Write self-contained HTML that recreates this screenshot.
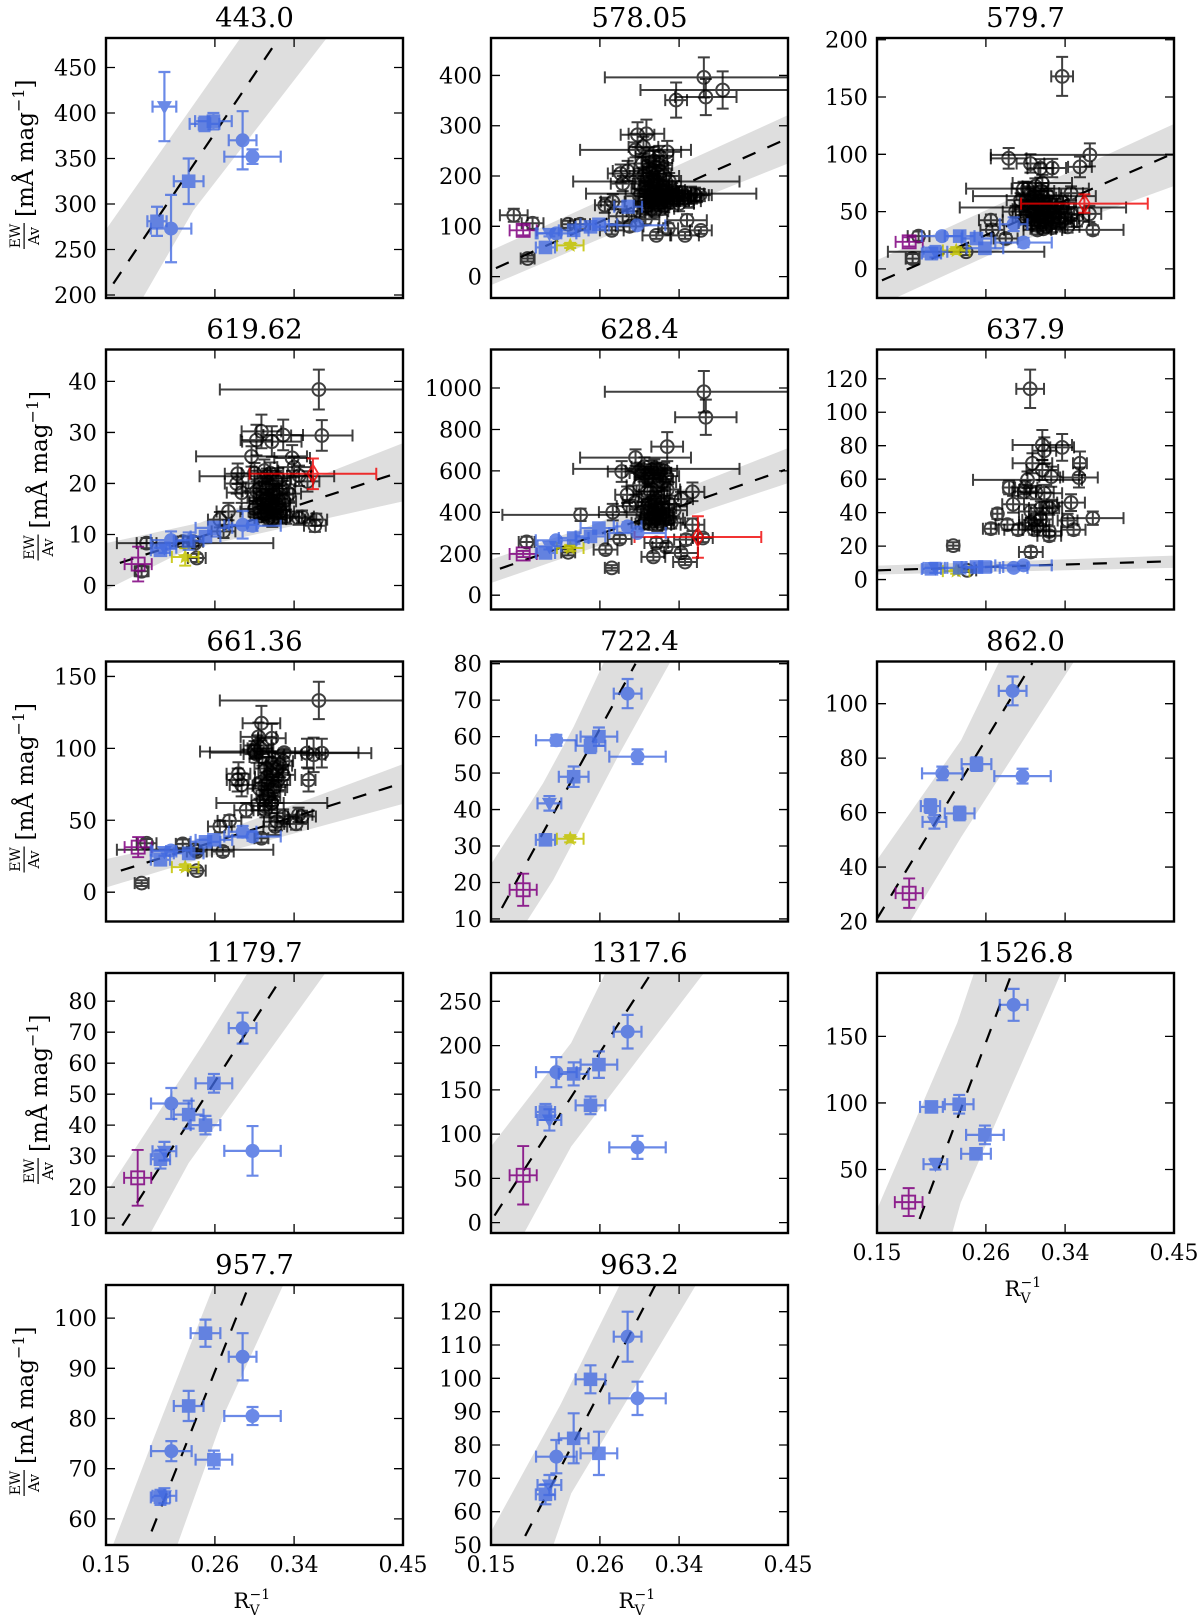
<!DOCTYPE html>
<html>
<head>
<meta charset="utf-8">
<title>EW/Av versus inverse Rv panels</title>
<style>
html,body{margin:0;padding:0;background:#fff;}
svg{display:block;}
text{font-family:"DejaVu Serif","Liberation Serif",serif;fill:#000;}
</style>
</head>
<body>
<svg id="figure" xmlns="http://www.w3.org/2000/svg" width="1200" height="1620" viewBox="0 0 1200 1620"></svg>
<script>
const panelTitles = ["443.0","578.05","579.7","619.62","628.4","637.9","661.36","722.4","862.0","1179.7","1317.6","1526.8","957.7","963.2"];
const xLimits = [0.15,0.45];
const xTickValues = [0.15,0.26,0.34,0.45];
const xTickLabels = ["0.15","0.26","0.34","0.45"];
const panelsWithXLabels = ["1526.8","957.7","963.2"];
const yLimits = [[196.7,482.4],[-42.5,474.4],[-25.4,201.5],[-4.7,46.25],[-69,1186],[-17.9,137.5],[-20.4,160.4],[9.3,80.6],[20,115.5],[5.2,89.1],[-11.7,282],[2.3,197.6],[54.8,106.6],[50,128]];
const yTickValues = [
[200,250,300,350,400,450],[0,100,200,300,400],[0,50,100,150,200],[0,10,20,30,40],[0,200,400,600,800,1000],[0,20,40,60,80,100,120],[0,50,100,150],
[10,20,30,40,50,60,70,80],[20,40,60,80,100],[10,20,30,40,50,60,70,80],[0,50,100,150,200,250],[50,100,150],[60,70,80,90,100],[50,60,70,80,90,100,110,120]];
const fitLines = [
[0.1574,212.5,0.3226,479],[0.155,17,0.45,275],[0.155,-10,0.45,101],[0.164,4.43,0.446,22.15],[0.159,128,0.447,605],[0.15,5.5,0.45,11],[0.165,15,0.447,75.3],
[0.161,13,0.296,80],[0.15,21,0.307,115],[0.1665,7.6,0.325,86.4],[0.1536,8,0.312,282],[0.193,12.8,0.286,197],[0.196,57.5,0.294,106.3],[0.1845,52.7,0.316,128]];
const bandUppers = [
[[0.15,272],[0.2855,482]],[[0.15,52],[0.45,321]],[[0.15,7.6],[0.45,126.5]],[[0.15,8.3],[0.245,12.3],[0.45,27.9]],[[0.15,172],[0.25,335],[0.45,710]],[[0.15,8.3],[0.45,14.3]],[[0.15,23],[0.25,38],[0.45,89]],
[[0.15,25],[0.2026,47.2],[0.2335,62.7],[0.2644,80.6]],[[0.15,42.6],[0.235,86.6],[0.2735,115.5]],[[0.15,18],[0.249,66.6],[0.293,89.1]],[[0.15,86],[0.231,203],[0.2655,282]],[[0.15,20],[0.231,160],[0.248,197.6]],[[0.157,54.8],[0.1974,75.7],[0.259,106.6]],[[0.15,54],[0.22,92],[0.28,128]]];
const bandLowers = [
[[0.15,126],[0.1878,198],[0.2383,293],[0.373,482.4]],[[0.15,-17],[0.26,75],[0.45,225]],[[0.15,-35],[0.1686,-25.4],[0.2885,22],[0.45,72.3]],[[0.15,-1],[0.159,0],[0.2316,7],[0.45,16.5]],[[0.15,59],[0.26,240],[0.45,541]],[[0.15,3],[0.45,7]],[[0.15,3.2],[0.25,24],[0.45,61.4]],
[[0.15,-6],[0.186,9.3],[0.2129,20.7],[0.2799,55.4],[0.3314,80.6]],[[0.15,-15],[0.1835,20],[0.235,51],[0.349,115.5]],[[0.15,-25],[0.195,5.2],[0.2335,27.8],[0.3716,89.1]],[[0.15,-75],[0.1835,-11.7],[0.231,86],[0.365,282]],[[0.15,-200],[0.226,2.3],[0.2345,25],[0.336,197.6]],[[0.222,54.8],[0.2696,81],[0.329,106.6]],[[0.15,15],[0.213,50],[0.231,65.5],[0.357,128]]];
const bluePoints = [
[[0.2015,0.0097,281,16,"s"],[0.209,0.012,407,38,"t"],[0.2157,0.0205,273,37,"c"],[0.2335,0.015,325,25,"s"],[0.2495,0.015,388,8,"s"],[0.2585,0.0185,391,9,"s"],[0.288,0.014,370,32,"c"],[0.298,0.0285,352,8,"c"]],
[[0.205,0.0097,58,8,"s"],[0.209,0.012,86,6,"t"],[0.2157,0.0205,86,6,"c"],[0.2335,0.015,92,8,"s"],[0.2505,0.015,99,8,"s"],[0.259,0.0185,104,10,"s"],[0.2885,0.014,139,12,"s"],[0.2976,0.0285,102,6,"c"]],
[[0.205,0.0097,13.4,5,"s"],[0.209,0.012,15,5,"t"],[0.2157,0.0205,28.6,3,"c"],[0.2335,0.015,28.6,4,"s"],[0.2505,0.015,26.5,3,"s"],[0.259,0.0185,18,5,"s"],[0.288,0.014,39,6,"c"],[0.298,0.0285,23,4,"c"]],
[[0.205,0.0097,6.9,1,"s"],[0.209,0.012,7.4,1,"t"],[0.2157,0.0205,8.9,1.7,"c"],[0.2335,0.015,8.7,1.7,"s"],[0.2505,0.015,9.6,1,"s"],[0.259,0.0185,11.3,1.2,"s"],[0.288,0.014,11.9,2.7,"c"],[0.298,0.0285,11.7,1,"c"]],
[[0.205,0.0097,204,25,"s"],[0.209,0.012,236,15,"t"],[0.2157,0.0205,265,15,"c"],[0.2335,0.015,276,20,"s"],[0.2505,0.015,284,20,"s"],[0.259,0.0185,324,25,"s"],[0.288,0.014,332,20,"c"],[0.298,0.0285,300,15,"c"]],
[[0.205,0.0097,6.4,3,"s"],[0.209,0.012,7,3,"t"],[0.2335,0.015,7,2,"s"],[0.2505,0.015,7.5,3,"s"],[0.259,0.0185,7.5,3,"s"],[0.288,0.014,7,2,"c"],[0.298,0.0285,8.5,2,"c"]],
[[0.205,0.0097,22.5,3,"s"],[0.209,0.012,28.3,3,"t"],[0.2157,0.0205,29,3,"c"],[0.2335,0.015,27,4,"s"],[0.2505,0.015,35,2,"s"],[0.259,0.0185,36.4,3,"s"],[0.288,0.014,42,4,"c"],[0.298,0.0285,38.7,3,"c"]],
[[0.205,0.0097,31.7,1.5,"s"],[0.209,0.012,41.7,2,"t"],[0.2335,0.015,49,2.8,"s"],[0.216,0.0205,59,1.5,"c"],[0.2505,0.015,57.5,2,"s"],[0.259,0.0185,60,2.5,"s"],[0.288,0.014,71.8,4,"c"],[0.298,0.0285,54.5,2,"c"]],
[[0.204,0.0097,62.4,2.5,"s"],[0.208,0.012,56.6,2.5,"t"],[0.216,0.0205,74.4,2.5,"c"],[0.2335,0.015,59.7,2.5,"s"],[0.2505,0.015,77.8,2.5,"s"],[0.287,0.014,104.7,5.3,"c"],[0.297,0.0285,73.4,2.7,"c"]],
[[0.205,0.0097,29,3,"s"],[0.209,0.012,31.6,3,"t"],[0.216,0.0205,47,5,"c"],[0.2335,0.015,43.4,4.5,"s"],[0.2505,0.015,40,3,"s"],[0.259,0.0185,53.5,3,"s"],[0.288,0.014,71.3,5,"c"],[0.298,0.0285,31.7,8,"c"]],
[[0.205,0.0097,125,9,"s"],[0.209,0.012,116,12,"t"],[0.216,0.0205,170,17,"c"],[0.2335,0.015,168,13,"s"],[0.2505,0.015,132.5,10,"s"],[0.259,0.0185,178.5,15,"s"],[0.288,0.014,215.7,19,"c"],[0.298,0.0285,85,13,"c"]],
[[0.205,0.0115,97,4,"s"],[0.209,0.012,54,4,"t"],[0.233,0.0145,99,7,"s"],[0.25,0.015,61.8,3.5,"s"],[0.259,0.019,76,7,"s"],[0.288,0.014,173.7,12,"c"]],
[[0.205,0.0097,64.3,1.5,"s"],[0.209,0.012,64.6,1.5,"t"],[0.216,0.0205,73.5,2,"c"],[0.2335,0.015,82.5,3,"s"],[0.2505,0.015,97,2.7,"s"],[0.259,0.0185,71.8,1.8,"s"],[0.288,0.014,92.3,4.7,"c"],[0.298,0.0285,80.5,1.8,"c"]],
[[0.205,0.0097,65.2,3,"s"],[0.209,0.012,68,3,"t"],[0.216,0.0205,76.5,5,"c"],[0.2335,0.015,82,7.5,"s"],[0.2505,0.015,99.7,4.2,"s"],[0.259,0.0185,77.5,6.5,"s"],[0.288,0.014,112.5,7.5,"c"],[0.298,0.0285,94,5,"c"]]];
const purplePoints = [[],[[0.1825,0.0137,92,10]],[[0.1825,0.0137,23.6,4]],[[0.1825,0.0137,4.2,3.4]],[[0.1825,0.0137,199,15]],[],[[0.1825,0.0137,31.3,7]],[[0.1825,0.0137,18,4.4]],[[0.1825,0.0137,30.4,5.4]],[[0.182,0.0137,23,9]],[[0.1825,0.0137,53.5,33]],[[0.182,0.014,25.5,10.5]],[],[]];
const yellowPoints = [[],[[0.23,0.0135,62,5]],[[0.23,0.0135,16,3]],[[0.23,0.0135,5.6,1.7]],[[0.23,0.0135,228,15]],[[0.23,0.0135,5,1.5]],[[0.23,0.0135,17.4,2]],[[0.23,0.0135,32,1]],[],[],[],[],[],[]];
const redPoints = [[],[],[[0.3595,0.064,57,8]],[[0.359,0.064,21.9,3]],[[0.359,0.064,281,100]],[],[],[],[],[],[],[],[],[]];
const blackPanel578 = [[0.365,0.1,396,40],[0.367,0.031,357,36],[0.337,0.011,351,35],[0.384,0.083,371,37],[0.173,0.014,122,13],[0.192,0.011,106,11],[0.187,0.007,36,6],[0.228,0.007,104,7],[0.24,0.01,104,10],[0.298,0.017,282,25],[0.307,0.018,284,28],[0.296,0.056,252,15],[0.328,0.014,248,22],[0.304,0.015,258,20],[0.281,0.013,205,18],[0.288,0.015,210,20],[0.283,0.012,185,15],[0.317,0.084,189,8],[0.332,0.086,165,8],[0.265,0.01,142,15],[0.273,0.012,149,15],[0.272,0.012,92,8],[0.306,0.014,114,10],[0.317,0.014,82,7],[0.346,0.014,82,7],[0.362,0.011,92,7],[0.348,0.02,112,12],[0.329,0.01,96,10],[0.356,0.014,162,15],[0.34,0.012,165,15],[0.361,0.012,162,12],[0.3,0.014,160,14],[0.305,0.013,175,15],[0.31,0.014,150,12],[0.312,0.012,165,15],[0.315,0.015,180,15],[0.318,0.013,145,13],[0.32,0.014,155,12],[0.322,0.015,170,14],[0.325,0.014,140,12],[0.328,0.013,150,14],[0.33,0.012,190,16],[0.31,0.015,215,18],[0.315,0.013,230,20],[0.318,0.014,205,18],[0.308,0.012,195,16],[0.325,0.015,200,15],[0.32,0.014,240,20],[0.312,0.014,135,12],[0.3,0.013,130,12],[0.335,0.014,155,12],[0.34,0.015,145,15],[0.345,0.013,155,14],[0.35,0.012,150,13],[0.283,0.014,120,14],[0.29,0.014,100,10],[0.306,0.013,185,15],[0.309,0.014,172,14],[0.311,0.013,158,13],[0.313,0.014,148,12],[0.314,0.013,192,16],[0.316,0.014,168,14],[0.317,0.013,155,13],[0.319,0.014,182,15],[0.321,0.013,162,13],[0.323,0.014,150,12],[0.324,0.013,178,15],[0.326,0.014,158,13],[0.327,0.013,168,14],[0.313,0.014,205,17],[0.316,0.013,218,18],[0.31,0.014,238,19],[0.32,0.013,222,18],[0.303,0.014,225,19],[0.33,0.014,160,13],[0.333,0.013,172,14],[0.338,0.014,158,13],[0.307,0.013,140,12],[0.315,0.014,130,11],[0.322,0.013,135,12],[0.304,0.014,200,17],[0.343,0.014,165,13],[0.352,0.013,165,14],[0.349,0.014,158,13]];
const blackPanel5797 = [[0.337,0.011,168,17],[0.365,0.1,99.5,10],[0.355,0.012,89,9],[0.283,0.018,96.5,9],[0.305,0.014,92,8],[0.327,0.014,88,8],[0.315,0.013,87.8,8],[0.317,0.03,75,7],[0.192,0.011,28.6,4],[0.186,0.007,9,4],[0.24,0.079,15,3],[0.368,0.031,34,4],[0.3425,0.012,36.7,5],[0.28,0.012,26.5,4],[0.2665,0.012,34,5],[0.265,0.012,42.5,5],[0.302,0.062,70,6],[0.309,0.062,63.5,5],[0.3176,0.084,53.6,5],[0.3645,0.012,48,7],[0.346,0.012,48,6],[0.346,0.012,66,6],[0.29,0.013,50,5],[0.295,0.014,60,6],[0.3,0.013,45,5],[0.303,0.014,55,5],[0.306,0.013,40,5],[0.308,0.014,50,6],[0.31,0.013,62,6],[0.312,0.014,38,5],[0.314,0.013,46,5],[0.316,0.014,54,6],[0.318,0.013,35,4],[0.32,0.014,42,5],[0.322,0.013,50,6],[0.324,0.014,58,6],[0.326,0.013,40,5],[0.328,0.014,48,5],[0.33,0.013,55,6],[0.333,0.014,45,5],[0.336,0.013,52,6],[0.34,0.014,44,5],[0.352,0.012,42,5],[0.31,0.013,72,7],[0.298,0.012,70,6],[0.322,0.014,64,6],[0.3,0.013,52,5],[0.304,0.014,47,5],[0.307,0.013,58,5],[0.309,0.014,43,5],[0.311,0.013,52,5],[0.313,0.014,59,6],[0.315,0.013,41,5],[0.317,0.014,49,5],[0.319,0.013,57,5],[0.321,0.014,37,4],[0.323,0.013,45,5],[0.325,0.014,52,5],[0.327,0.013,36,4],[0.329,0.014,44,5],[0.331,0.013,50,5],[0.312,0.014,34,4],[0.318,0.013,62,6],[0.305,0.014,65,6],[0.316,0.013,68,7],[0.335,0.014,40,5],[0.338,0.013,58,6]];
const blackPanel61962 = [[0.365,0.1,38.4,3.9],[0.368,0.031,29.4,3],[0.307,0.02,30.2,3.3],[0.329,0.02,29.5,3],[0.3175,0.03,28.2,3],[0.302,0.016,28.5,3],[0.297,0.056,25.3,2],[0.338,0.018,25,2.5],[0.34,0.017,23.2,2],[0.283,0.013,21.9,2],[0.3125,0.068,21.4,1.5],[0.3535,0.012,20.4,2],[0.287,0.015,18.2,2],[0.282,0.012,20,2],[0.2737,0.012,14.5,1.7],[0.265,0.012,12.9,1.5],[0.2687,0.012,10.6,1.3],[0.361,0.011,11.7,1.2],[0.3624,0.011,12.9,1.2],[0.3445,0.014,13.2,1.3],[0.348,0.012,13.5,1.2],[0.24,0.079,8.3,0.5],[0.2275,0.007,8.6,1],[0.238,0.01,8.6,1],[0.191,0.01,8.3,1],[0.186,0.007,2.8,1],[0.2417,0.009,5.4,0.8],[0.3,0.013,22,2],[0.305,0.014,19,2],[0.308,0.013,16,1.7],[0.31,0.014,14,1.6],[0.312,0.013,17,1.8],[0.314,0.014,20,2],[0.316,0.013,15,1.6],[0.318,0.014,13,1.5],[0.32,0.013,18,1.9],[0.322,0.014,16,1.7],[0.324,0.013,21,2],[0.326,0.014,14.5,1.6],[0.328,0.013,19,2],[0.33,0.012,16.5,1.7],[0.332,0.013,13.5,1.4],[0.31,0.014,22.5,2.2],[0.3,0.013,15,1.6],[0.335,0.012,18,1.8],[0.345,0.012,21.5,2],[0.307,0.013,14.5,1.6],[0.309,0.014,16.5,1.7],[0.311,0.013,15.3,1.6],[0.313,0.014,14.2,1.5],[0.315,0.013,17,1.8],[0.317,0.014,16,1.7],[0.319,0.013,14.8,1.6],[0.321,0.014,15.6,1.6],[0.323,0.013,13.8,1.5],[0.325,0.014,17.8,1.8],[0.312,0.013,19,2],[0.318,0.014,19.5,2],[0.316,0.013,22,2.1],[0.322,0.014,20.5,2],[0.306,0.013,17.2,1.8],[0.302,0.014,18.5,1.9],[0.32,0.013,13.4,1.4],[0.314,0.014,13.2,1.4]];
const blackPanel6284 = [[0.365,0.1,982,100],[0.367,0.031,859,85],[0.328,0.016,717,70],[0.296,0.056,664,40],[0.282,0.014,597,50],[0.317,0.084,610,30],[0.3535,0.012,499,45],[0.342,0.012,464,35],[0.2875,0.012,485,40],[0.273,0.014,401,40],[0.2405,0.079,388,30],[0.186,0.008,257,25],[0.228,0.007,207,15],[0.2657,0.012,220,20],[0.272,0.007,132,13],[0.28,0.012,271,20],[0.317,0.012,252,25],[0.347,0.012,268,25],[0.3535,0.012,340,30],[0.327,0.014,233,20],[0.314,0.012,185,18],[0.342,0.017,204,18],[0.346,0.012,160,15],[0.364,0.01,276,20],[0.3,0.014,600,40],[0.305,0.013,620,45],[0.31,0.014,580,40],[0.315,0.013,610,45],[0.32,0.014,560,40],[0.325,0.013,600,40],[0.3,0.013,530,40],[0.308,0.014,500,40],[0.312,0.013,450,35],[0.316,0.014,420,35],[0.318,0.013,390,30],[0.32,0.014,360,30],[0.322,0.013,440,35],[0.315,0.014,370,30],[0.31,0.013,400,35],[0.325,0.014,480,40],[0.328,0.013,510,40],[0.33,0.014,370,30],[0.305,0.013,350,30],[0.318,0.014,340,30],[0.296,0.013,450,35],[0.29,0.013,430,30],[0.335,0.013,410,30],[0.312,0.014,430,35],[0.314,0.013,395,32],[0.316,0.014,375,30],[0.317,0.013,440,35],[0.319,0.014,410,33],[0.321,0.013,385,30],[0.313,0.014,360,30],[0.323,0.014,420,33],[0.315,0.013,465,36],[0.311,0.014,500,38],[0.318,0.013,525,40],[0.323,0.014,545,42],[0.308,0.013,565,42],[0.304,0.014,590,42],[0.319,0.013,590,42],[0.312,0.014,605,44],[0.327,0.013,575,40],[0.332,0.014,350,28],[0.322,0.013,345,28],[0.31,0.014,345,28]];
const blackPanel6379 = [[0.3047,0.014,114,11.5],[0.337,0.012,79,8],[0.317,0.03,80.4,9],[0.319,0.012,77,8],[0.355,0.007,69.5,7],[0.307,0.02,69.5,6],[0.317,0.016,65.5,6],[0.326,0.012,61.5,6],[0.354,0.019,61,6],[0.302,0.055,59.6,5],[0.2835,0.006,55,4],[0.2987,0.012,52.6,4],[0.3105,0.018,52,4],[0.319,0.018,51.6,5],[0.2875,0.011,45,5],[0.346,0.014,46,5],[0.2716,0.005,39.3,3],[0.324,0.01,42.7,4],[0.327,0.01,43.7,4],[0.3155,0.012,42.7,4],[0.3054,0.012,40.7,4],[0.368,0.031,36.7,4],[0.3425,0.01,35.3,4],[0.265,0.008,30.4,3],[0.2817,0.012,32.8,3],[0.2926,0.014,29.8,3],[0.3088,0.012,35.7,3],[0.3088,0.012,29.8,3],[0.3054,0.012,34,3],[0.3486,0.012,29.8,3],[0.324,0.012,28.8,3],[0.324,0.012,26.2,3],[0.3054,0.012,16.5,3],[0.227,0.006,20.3,2],[0.2412,0.009,5.5,1],[0.3155,0.012,36,3],[0.312,0.012,32,3],[0.3,0.012,55,4]];
const blackPanel66136 = [[0.365,0.1,133.3,13],[0.307,0.019,117.5,12],[0.3175,0.014,107,10],[0.304,0.018,108,10],[0.3,0.055,97.8,5],[0.33,0.075,97,3],[0.353,0.012,96.7,10],[0.368,0.05,96.7,10],[0.3597,0.012,95.5,12],[0.3546,0.007,78,8],[0.2838,0.012,82.3,8],[0.283,0.011,78,8],[0.287,0.012,74.6,8],[0.329,0.01,91,8],[0.3175,0.013,90,8],[0.3125,0.012,80,9],[0.324,0.012,78,8],[0.329,0.012,81.6,7],[0.309,0.012,64,7],[0.3175,0.012,62,7],[0.311,0.012,57,5],[0.3175,0.056,62,3],[0.2916,0.012,57,5],[0.3445,0.014,53.8,5],[0.348,0.014,52.6,4],[0.329,0.014,52.6,5],[0.321,0.012,45.7,6],[0.3226,0.013,49,6],[0.342,0.012,47.5,4],[0.2747,0.012,49.6,4],[0.265,0.012,45.7,4],[0.307,0.007,37.5,3],[0.2417,0.01,28.3,2],[0.2275,0.007,33.6,3],[0.191,0.01,34,3],[0.186,0.007,6.3,2],[0.2417,0.009,15,2],[0.268,0.011,28.3,3],[0.24,0.079,29.5,1],[0.319,0.012,71,7],[0.312,0.012,86,8],[0.322,0.012,85,8],[0.305,0.012,72,7],[0.3,0.014,99,6],[0.303,0.014,102,7],[0.31,0.012,74,7],[0.302,0.013,96,6],[0.306,0.013,100,7],[0.308,0.013,94,6],[0.314,0.013,76,8],[0.316,0.012,83,8],[0.32,0.013,73,7],[0.326,0.012,88,8],[0.314,0.012,67,7],[0.31,0.013,60,6]];
const blackPoints = [[],blackPanel578,blackPanel5797,blackPanel61962,blackPanel6284,blackPanel6379,blackPanel66136,[],[],[],[],[],[],[]];
const columnLefts = [106,491,877];
const rowTops = [38,349.5,661.5,973,1285];
const panelWidth = 297;
const panelHeight = 260;
const svgNS = "http://www.w3.org/2000/svg";
const root = document.getElementById("figure");

function make(tag, attrs, parent, text) {
  const el = document.createElementNS(svgNS, tag);
  for (const key in attrs) el.setAttribute(key, attrs[key]);
  if (text !== undefined) el.textContent = text;
  parent.appendChild(el);
  return el;
}

function errorBars(parent, sx, sy, p, color, width) {
  const x0 = sx(p[0] - p[1]), x1 = sx(p[0] + p[1]);
  const y0 = sy(p[2] - p[3]), y1 = sy(p[2] + p[3]);
  const cy = sy(p[2]), cx = sx(p[0]);
  const capSize = 6;
  const style = {stroke: color, "stroke-width": width, fill: "none"};
  const d = "M" + x0 + " " + cy + "L" + x1 + " " + cy +
    "M" + cx + " " + y0 + "L" + cx + " " + y1 +
    "M" + x0 + " " + (cy - capSize) + "V" + (cy + capSize) +
    "M" + x1 + " " + (cy - capSize) + "V" + (cy + capSize) +
    "M" + (cx - capSize) + " " + y0 + "H" + (cx + capSize) +
    "M" + (cx - capSize) + " " + y1 + "H" + (cx + capSize);
  const path = make("path", Object.assign({d: d}, style), parent);
  
  
}

function starPoints(cx, cy, r) {
  const pts = [];
  for (let i = 0; i < 10; i++) {
    const a = -Math.PI / 2 + i * Math.PI / 5;
    const rad = i % 2 === 0 ? r : r * 0.45;
    pts.push((cx + rad * Math.cos(a)) + "," + (cy + rad * Math.sin(a)));
  }
  return pts.join(" ");
}

function drawPanel(index) {
  const col = index < 12 ? index % 3 : index - 12;
  const row = index < 12 ? Math.floor(index / 3) : 4;
  const left = columnLefts[col], top = rowTops[row];
  const right = left + panelWidth, bottom = top + panelHeight;
  const yLim = yLimits[index];
  const sx = v => left + (v - xLimits[0]) / (xLimits[1] - xLimits[0]) * panelWidth;
  const sy = v => bottom - (v - yLim[0]) / (yLim[1] - yLim[0]) * panelHeight;

  const panel = make("g", {}, root);
  
  

  const clip = make("clipPath", {id: "clip" + index}, panel);
  make("rect", {x: left, y: top, width: panelWidth, height: panelHeight}, clip);

  const plot = make("g", {"clip-path": "url(#clip" + index + ")"}, panel);
  
  

  const upper = bandUppers[index].map(p => sx(p[0]) + "," + sy(p[1]));
  const lower = bandLowers[index].map(p => sx(p[0]) + "," + sy(p[1])).reverse();
  const band = make("polygon", {points: upper.concat(lower).join(" "), fill: "#dedede", stroke: "none"}, plot);
  
  

  const f = fitLines[index];
  const fit = make("line", {x1: sx(f[0]), y1: sy(f[1]), x2: sx(f[2]), y2: sy(f[3]), stroke: "#000", "stroke-width": 2.2, "stroke-dasharray": "14 13"}, plot);
  
  

  blackPoints[index].forEach(p => {
    const g = make("g", {opacity: 0.75}, plot);
    
    
    errorBars(g, sx, sy, p, "#000", 2);
    make("circle", {cx: sx(p[0]), cy: sy(p[2]), r: 6.4, fill: "none", stroke: "#000", "stroke-width": 2}, g);
  });

  purplePoints[index].forEach(p => {
    const g = make("g", {opacity: 0.85}, plot);
    
    
    errorBars(g, sx, sy, p, "#800080", 1.9);
    make("rect", {x: sx(p[0]) - 6.5, y: sy(p[2]) - 6.5, width: 13, height: 13, fill: "none", stroke: "#800080", "stroke-width": 1.9}, g);
  });

  yellowPoints[index].forEach(p => {
    const g = make("g", {opacity: 0.85}, plot);
    
    
    errorBars(g, sx, sy, p, "#c4c400", 2);
    make("polygon", {points: starPoints(sx(p[0]), sy(p[2]), 8), fill: "#c4c400"}, g);
  });

  redPoints[index].forEach(p => {
    const g = make("g", {opacity: 0.8}, plot);
    
    
    errorBars(g, sx, sy, p, "#f00000", 2);
    const cx = sx(p[0]), cy = sy(p[2]);
    make("polygon", {points: cx + "," + (cy - 9) + " " + (cx + 5.5) + "," + cy + " " + cx + "," + (cy + 9) + " " + (cx - 5.5) + "," + cy, fill: "none", stroke: "#f00000", "stroke-width": 1.8}, g);
  });

  bluePoints[index].forEach(p => {
    const g = make("g", {opacity: 0.78}, plot);
    
    
    errorBars(g, sx, sy, p, "#4169e1", 2.2);
    const cx = sx(p[0]), cy = sy(p[2]);
    if (p[4] === "c") make("circle", {cx: cx, cy: cy, r: 7, fill: "#4169e1"}, g);
    else if (p[4] === "s") make("rect", {x: cx - 6.8, y: cy - 6.8, width: 13.6, height: 13.6, fill: "#4169e1"}, g);
    else make("polygon", {points: (cx - 7.5) + "," + (cy - 5.5) + " " + (cx + 7.5) + "," + (cy - 5.5) + " " + cx + "," + (cy + 8), fill: "#4169e1"}, g);
  });

  const tickLength = 9;
  xTickValues.forEach((v, i) => {
    const tx = sx(v);
    const tick = make("path", {d: "M" + tx + " " + bottom + "v" + (-tickLength) + "M" + tx + " " + top + "v" + tickLength, stroke: "#000", "stroke-width": 1.3, fill: "none"}, panel);
    
    
    if (panelsWithXLabels.indexOf(panelTitles[index]) >= 0) {
      const label = make("text", {x: tx, y: bottom + 27, "text-anchor": "middle", "font-size": 22}, panel, xTickLabels[i]);
      
      
    }
  });

  yTickValues[index].forEach(v => {
    const ty = sy(v);
    const tick = make("path", {d: "M" + left + " " + ty + "h" + tickLength + "M" + right + " " + ty + "h" + (-tickLength), stroke: "#000", "stroke-width": 1.3, fill: "none"}, panel);
    
    
    const label = make("text", {x: left - 9, y: ty + 8, "text-anchor": "end", "font-size": 22.5}, panel, String(v));
    
    
  });

  const frame = make("rect", {x: left, y: top, width: panelWidth, height: panelHeight, fill: "none", stroke: "#000", "stroke-width": 2.4}, panel);
  
  

  const title = make("text", {x: left + panelWidth / 2, y: top - 11, "text-anchor": "middle", "font-size": 27.5}, panel, panelTitles[index]);
  
  

  if (col === 0) {
    const wide = Math.max.apply(null, yTickValues[index]) >= 100;
    const labelX = wide ? 25 : 39;
    const midY = top + panelHeight / 2;
    const yLabel = make("g", {transform: "translate(" + labelX + "," + (midY - 1) + ") rotate(-90)"}, panel);
    
    
    make("text", {x: -69, y: -5, "text-anchor": "middle", "font-size": 14}, yLabel, "EW");
    make("rect", {x: -82, y: -1.5, width: 26, height: 1.2}, yLabel);
    make("text", {x: -69, y: 14, "text-anchor": "middle", "font-size": 14.5}, yLabel, "Av");
    const units = make("text", {x: -50, y: 8, "text-anchor": "start", "font-size": 23}, yLabel);
    make("tspan", {}, units, "[mÅ mag");
    make("tspan", {"font-size": 16, dy: -9}, units, "−1");
    make("tspan", {dy: 9}, units, "]");
  }

  if (panelsWithXLabels.indexOf(panelTitles[index]) >= 0) {
    const cx = left + panelWidth / 2;
    const xLabel = make("g", {}, panel);
    
    
    make("text", {x: cx - 21, y: bottom + 63, "font-size": 21}, xLabel, "R");
    make("text", {x: cx - 5, y: bottom + 54, "font-size": 14}, xLabel, "−1");
    make("text", {x: cx - 5, y: bottom + 70, "font-size": 14}, xLabel, "V");
  }
}

panelTitles.forEach((t, i) => drawPanel(i));
</script>
</body>
</html>
